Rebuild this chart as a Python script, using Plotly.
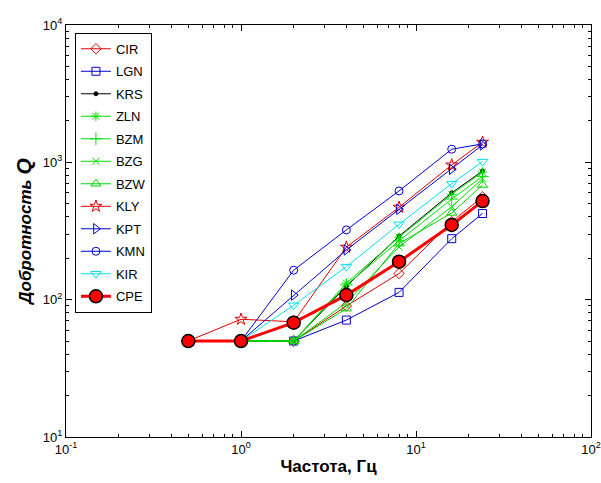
import plotly.graph_objects as go

freq = [0.5, 1, 2, 4, 8, 16, 24]

CIR = [None, 50, 50, 90, 155, 370, 560]
LGN = [None, 50, 50, 71, 113, 278, 424]
KRS = [None, 50, 50, 125, 290, 600, 865]
ZLN = [None, 50, 50, 132, 285, 585, 850]
BZM = [None, 50, 50, 128, 268, 540, 790]
BZG = [None, 50, 50, 95, 242, 475, 760]
BZW = [None, 50, 50, 86, 256, 428, 684]
KLY = [50, 72, 69, 241, 471, 957, 1400]
KPT = [None, 50, 108, 230, 455, 891, 1339]
KMN = [None, 50, 164, 322, 619, 1246, 1362]
KIR = [None, 50, 91, 174, 354, 700, 1012]
CPE = [50, 50, 68, 108, 189, 350, 522]

x_minor = [m * 10.0 ** e for e in (-1, 0, 1) for m in range(2, 10)]
y_minor = [m * 10.0 ** e for e in (1, 2, 3) for m in range(2, 10)]

series = [
    ("CIR", CIR, "#e00000", "diamond-open", 8),
    ("LGN", LGN, "#0000d0", "square-open", 8),
    ("KRS", KRS, "black", "circle", 4),
    ("ZLN", ZLN, "#00e000", "asterisk-open", 8),
    ("BZM", BZM, "#00e000", "cross-thin-open", 9),
    ("BZG", BZG, "#00e000", "x-thin-open", 7),
    ("BZW", BZW, "#00d000", "triangle-up-open", 9),
    ("KLY", KLY, "#e00000", "star-open", 9),
    ("KPT", KPT, "#0000d0", "triangle-right-open", 9),
    ("KMN", KMN, "#0000d0", "circle-open", 8),
    ("KIR", KIR, "#00e0ee", "triangle-down-open", 9),
]

fig = go.Figure()
for name, vals, col, sym, sz in series:
    fig.add_trace(go.Scatter(
        x=freq, y=vals, name=name, legendgroup=name, mode="lines+markers",
        line=dict(color=col, width=1),
        marker=dict(symbol=sym, size=sz, color=col, line=dict(color=col, width=1)),
        connectgaps=False,
    ))
fig.add_trace(go.Scatter(
    x=freq, y=CPE, name="CPE", legendgroup="CPE", mode="lines+markers",
    line=dict(color="#ff0000", width=3),
    marker=dict(symbol="circle", size=13, color="#ff0000", line=dict(color="black", width=1.5)),
))
fig.add_trace(go.Scatter(x=[0.1, 100], y=[10, 10000], xaxis="x2", yaxis="y2",
                         mode="markers", marker=dict(opacity=0), showlegend=False,
                         hoverinfo="skip"))

font_t = dict(family="Liberation Sans, Arial", size=13, color="black")
base = dict(
    type="log", showgrid=False, zeroline=False, automargin=False,
    showline=True, linecolor="black", linewidth=1,
    ticks="inside", ticklen=6, tickcolor="black", tickwidth=1,
)
xm = dict(tickmode="array", tickvals=x_minor, ticks="inside", ticklen=3, tickcolor="black", showgrid=False)
ym = dict(tickmode="array", tickvals=y_minor, ticks="inside", ticklen=3, tickcolor="black", showgrid=False)

fig.update_layout(
    xaxis=dict(
        range=[-1, 2], tickmode="array",
        tickvals=[0.1, 1, 10, 100],
        ticktext=["10<sup>-1</sup>", "10<sup>0</sup>", "10<sup>1</sup>", "10<sup>2</sup>"],
        tickfont=font_t, minor=xm,
        title=dict(text="<b>Частота, Гц</b>", font=dict(family="Liberation Sans, Arial", size=17, color="black"), standoff=4),
        **base,
    ),
    yaxis=dict(
        range=[1, 4], tickmode="array",
        tickvals=[10, 100, 1000, 10000],
        ticktext=["10<sup>1</sup>", "10<sup>2</sup>", "10<sup>3</sup>", "10<sup>4</sup>"],
        tickfont=font_t, minor=ym,
        title=dict(text="<b><i>Добротность <span style='font-size:21px'>Q</span></i></b>",
                   font=dict(family="Liberation Sans, Arial", size=17, color="black"), standoff=6),
        **base,
    ),
    xaxis2=dict(range=[-1, 2], overlaying="x", side="top", anchor="y", tickmode="array",
                tickvals=[0.1, 1, 10, 100], showticklabels=False, minor=xm, **base),
    yaxis2=dict(range=[1, 4], overlaying="y", side="right", anchor="x", tickmode="array",
                tickvals=[10, 100, 1000, 10000], showticklabels=False, minor=ym, **base),
    width=601, height=483,
    margin=dict(l=66, r=10, t=25, b=46),
    paper_bgcolor="white", plot_bgcolor="white",
    legend=dict(
        x=0.017, y=0.981, xanchor="left", yanchor="top",
        bgcolor="white", bordercolor="black", borderwidth=1,
        font=dict(family="Liberation Sans, Arial", size=13, color="black"),
        tracegroupgap=2.6, itemwidth=30,
    ),
)

fig.write_html("out.html")
